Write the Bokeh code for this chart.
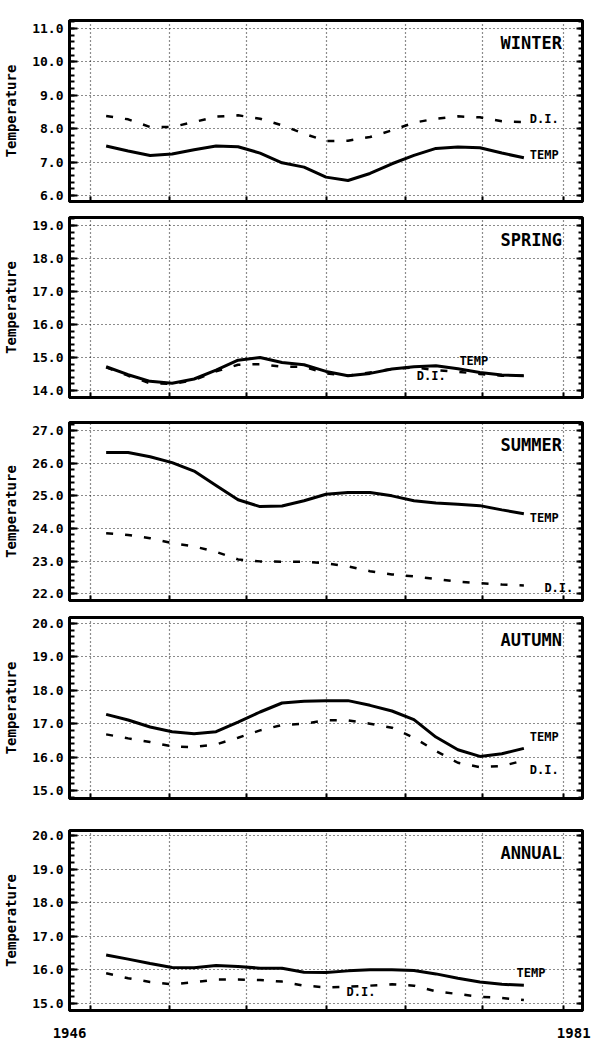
import numpy as np
from bokeh.plotting import figure
from bokeh.models import (Range1d, FixedTicker, LinearAxis, Label, NumeralTickFormatter,
                          CustomJSTickFormatter)
from bokeh.layouts import column
from bokeh.embed import file_html
from bokeh.resources import INLINE

# ---------------- data ----------------
years = [1948.5, 1950, 1951.5, 1953, 1954.5, 1956, 1957.5, 1959, 1960.5, 1962,
         1963.5, 1965, 1966.5, 1968, 1969.5, 1971, 1972.5, 1974, 1975.5, 1977]

winter_temp = [7.48, 7.33, 7.20, 7.24, 7.37, 7.48, 7.46, 7.27, 6.98, 6.85,
               6.55, 6.45, 6.66, 6.95, 7.20, 7.41, 7.45, 7.43, 7.27, 7.13]
winter_di = [8.38, 8.28, 8.05, 8.05, 8.20, 8.36, 8.40, 8.30, 8.10, 7.85,
             7.63, 7.64, 7.75, 7.95, 8.18, 8.30, 8.37, 8.34, 8.22, 8.20]

spring_temp = [14.72, 14.48, 14.28, 14.22, 14.35, 14.62, 14.92, 15.00, 14.85, 14.78,
               14.58, 14.45, 14.52, 14.65, 14.72, 14.75, 14.66, 14.55, 14.47, 14.45]
spring_di = [14.70, 14.45, 14.22, 14.20, 14.32, 14.58, 14.78, 14.80, 14.72, 14.72,
             14.52, 14.45, 14.55, 14.65, 14.70, 14.62, 14.57, 14.50, 14.45, 14.45]

summer_temp = [26.33, 26.33, 26.20, 26.02, 25.76, 25.32, 24.88, 24.67, 24.69, 24.85,
               25.05, 25.10, 25.10, 25.00, 24.85, 24.78, 24.74, 24.70, 24.57, 24.45]
summer_di = [23.85, 23.80, 23.70, 23.55, 23.45, 23.28, 23.05, 22.99, 22.98, 22.98,
             22.93, 22.84, 22.69, 22.59, 22.53, 22.45, 22.37, 22.32, 22.28, 22.25]

autumn_temp = [17.28, 17.11, 16.90, 16.76, 16.70, 16.76, 17.05, 17.35, 17.62, 17.67,
               17.69, 17.69, 17.55, 17.38, 17.12, 16.60, 16.22, 16.02, 16.10, 16.26]
autumn_di = [16.68, 16.56, 16.45, 16.32, 16.30, 16.38, 16.58, 16.80, 16.96, 17.00,
             17.10, 17.10, 17.00, 16.88, 16.58, 16.18, 15.83, 15.70, 15.73, 15.90]

annual_temp = [16.44, 16.32, 16.19, 16.07, 16.06, 16.13, 16.10, 16.05, 16.05, 15.93,
               15.92, 15.97, 16.00, 16.00, 15.98, 15.88, 15.75, 15.64, 15.57, 15.54]
annual_di = [15.90, 15.75, 15.64, 15.57, 15.63, 15.71, 15.71, 15.70, 15.65, 15.53,
             15.48, 15.50, 15.53, 15.57, 15.53, 15.36, 15.28, 15.20, 15.16, 15.10]

seasons = ["WINTER", "SPRING", "SUMMER", "AUTUMN", "ANNUAL"]
temp_series = [winter_temp, spring_temp, summer_temp, autumn_temp, annual_temp]
di_series = [winter_di, spring_di, summer_di, autumn_di, annual_di]

y_ticks = [
    [6.0, 7.0, 8.0, 9.0, 10.0, 11.0],
    [14.0, 15.0, 16.0, 17.0, 18.0, 19.0],
    [22.0, 23.0, 24.0, 25.0, 26.0, 27.0],
    [15.0, 16.0, 17.0, 18.0, 19.0, 20.0],
    [15.0, 16.0, 17.0, 18.0, 19.0, 20.0],
]
y_ranges = [(5.82, 11.24), (13.79, 19.24), (21.79, 27.25), (14.76, 20.18), (14.79, 20.15)]

x_start, x_end = 1946, 1981
x_grid_years = [1947.4, 1952.8, 1958.1, 1963.5, 1968.9, 1974.2, 1979.7]
x_end_labels = ["1946", "1981"]

line_label_texts = ["TEMP", "D.I."]
# (temp label x, temp label y, D.I. label x, D.I. label y)
line_label_pos = [
    (1977.4, 7.20, 1977.4, 8.30),
    (1972.6, 14.90, 1969.7, 14.45),
    (1977.4, 24.33, 1978.4, 22.18),
    (1977.4, 16.59, 1977.4, 15.60),
    (1976.5, 15.92, 1964.9, 15.33),
]

# ---------------- style ----------------
FONT = "DejaVu Sans Mono"
frame_h = [181, 180, 178, 181, 180]
border_top = [20, 8, 13, 9, 16]
border_bottom = [8, 12, 8, 16, 37]

figs = []
for i, name in enumerate(seasons):
    y0, y1 = y_ranges[i]
    p = figure(frame_width=513, frame_height=frame_h[i],
               x_range=Range1d(x_start, x_end), y_range=Range1d(y0, y1),
               output_backend="svg", toolbar_location=None,
               min_border_left=62, min_border_right=9,
               min_border_top=border_top[i], min_border_bottom=border_bottom[i])
    p.background_fill_color = "white"
    p.border_fill_color = "white"
    p.outline_line_color = "black"
    p.outline_line_width = 3
    p.outline_line_alpha = 1.0

    minor = list(np.round(np.arange(np.floor(y0), np.ceil(y1) + 0.01, 0.2), 2))
    yt = FixedTicker(ticks=y_ticks[i], minor_ticks=minor)

    xa = p.xaxis[0]
    xa.ticker = FixedTicker(ticks=x_grid_years)
    xa.major_tick_in = 5
    xa.major_tick_out = 0
    xa.minor_tick_in = 0
    xa.minor_tick_out = 0
    xa.major_tick_line_width = 2
    xa.major_label_text_font_size = "0px"
    xa.major_label_text_color = None
    xa.major_label_standoff = 0
    xa.axis_line_width = 3

    ya = p.yaxis[0]
    ya.ticker = yt
    ya.formatter = NumeralTickFormatter(format="0.0")
    ya.major_label_text_font = FONT
    ya.major_label_text_font_size = "13px"
    ya.major_label_text_font_style = "bold"
    ya.major_label_text_color = "black"
    ya.major_label_standoff = 6
    ya.major_tick_in = 8
    ya.major_tick_out = 0
    ya.minor_tick_in = 5
    ya.minor_tick_out = 0
    ya.major_tick_line_width = 2
    ya.minor_tick_line_width = 2
    ya.axis_line_width = 3
    ya.axis_label = "Temperature"
    ya.axis_label_text_font = FONT
    ya.axis_label_text_font_size = "14px"
    ya.axis_label_text_font_style = "bold"
    ya.axis_label_text_color = "black"
    ya.axis_label_standoff = 10

    ra = LinearAxis(ticker=yt, major_label_text_font_size="0px", major_label_text_color=None,
                    major_label_standoff=0,
                    major_tick_in=6, major_tick_out=0, minor_tick_in=4, minor_tick_out=0,
                    major_tick_line_width=2, minor_tick_line_width=2, axis_line_width=3)
    p.add_layout(ra, "right")

    p.xgrid.ticker = FixedTicker(ticks=x_grid_years)
    p.grid.grid_line_color = "black"
    p.grid.grid_line_dash = "1 3"
    p.grid.grid_line_width = 1.2
    p.grid.grid_line_alpha = 0.9

    p.line(years, temp_series[i], line_color="black", line_width=3)
    p.line(years, di_series[i], line_color="black", line_width=2.5, line_dash="7 12")

    p.add_layout(Label(x=1979.6, y=y1, text=name, text_align="right", text_baseline="top",
                       y_offset=-12, text_font=FONT, text_font_size="17px",
                       text_font_style="bold", text_color="black"))

    tx, ty, dx, dy = line_label_pos[i]
    p.add_layout(Label(x=tx, y=ty, text=line_label_texts[0], text_align="left",
                       text_baseline="middle", text_font=FONT, text_font_size="12px",
                       text_font_style="bold", text_color="black"))
    p.add_layout(Label(x=dx, y=dy, text=line_label_texts[1], text_align="left",
                       text_baseline="middle", text_font=FONT, text_font_size="12px",
                       text_font_style="bold", text_color="black"))

    if i == len(seasons) - 1:
        year_fmt = CustomJSTickFormatter(args=dict(labels=x_end_labels),
                                         code="return tick < 1960 ? labels[0] : labels[1];")
        ea = LinearAxis(ticker=FixedTicker(ticks=[x_start, x_end - 0.6]), formatter=year_fmt,
                        axis_line_color=None, major_tick_line_color=None,
                        minor_tick_line_color=None, major_tick_in=0, major_tick_out=0,
                        major_label_standoff=17, major_label_text_font=FONT,
                        major_label_text_font_size="14px", major_label_text_font_style="bold",
                        major_label_text_color="black")
        p.add_layout(ea, "below")
    figs.append(p)

layout = column(*figs, spacing=0)
open("out.html", "w").write(file_html(layout, INLINE))
